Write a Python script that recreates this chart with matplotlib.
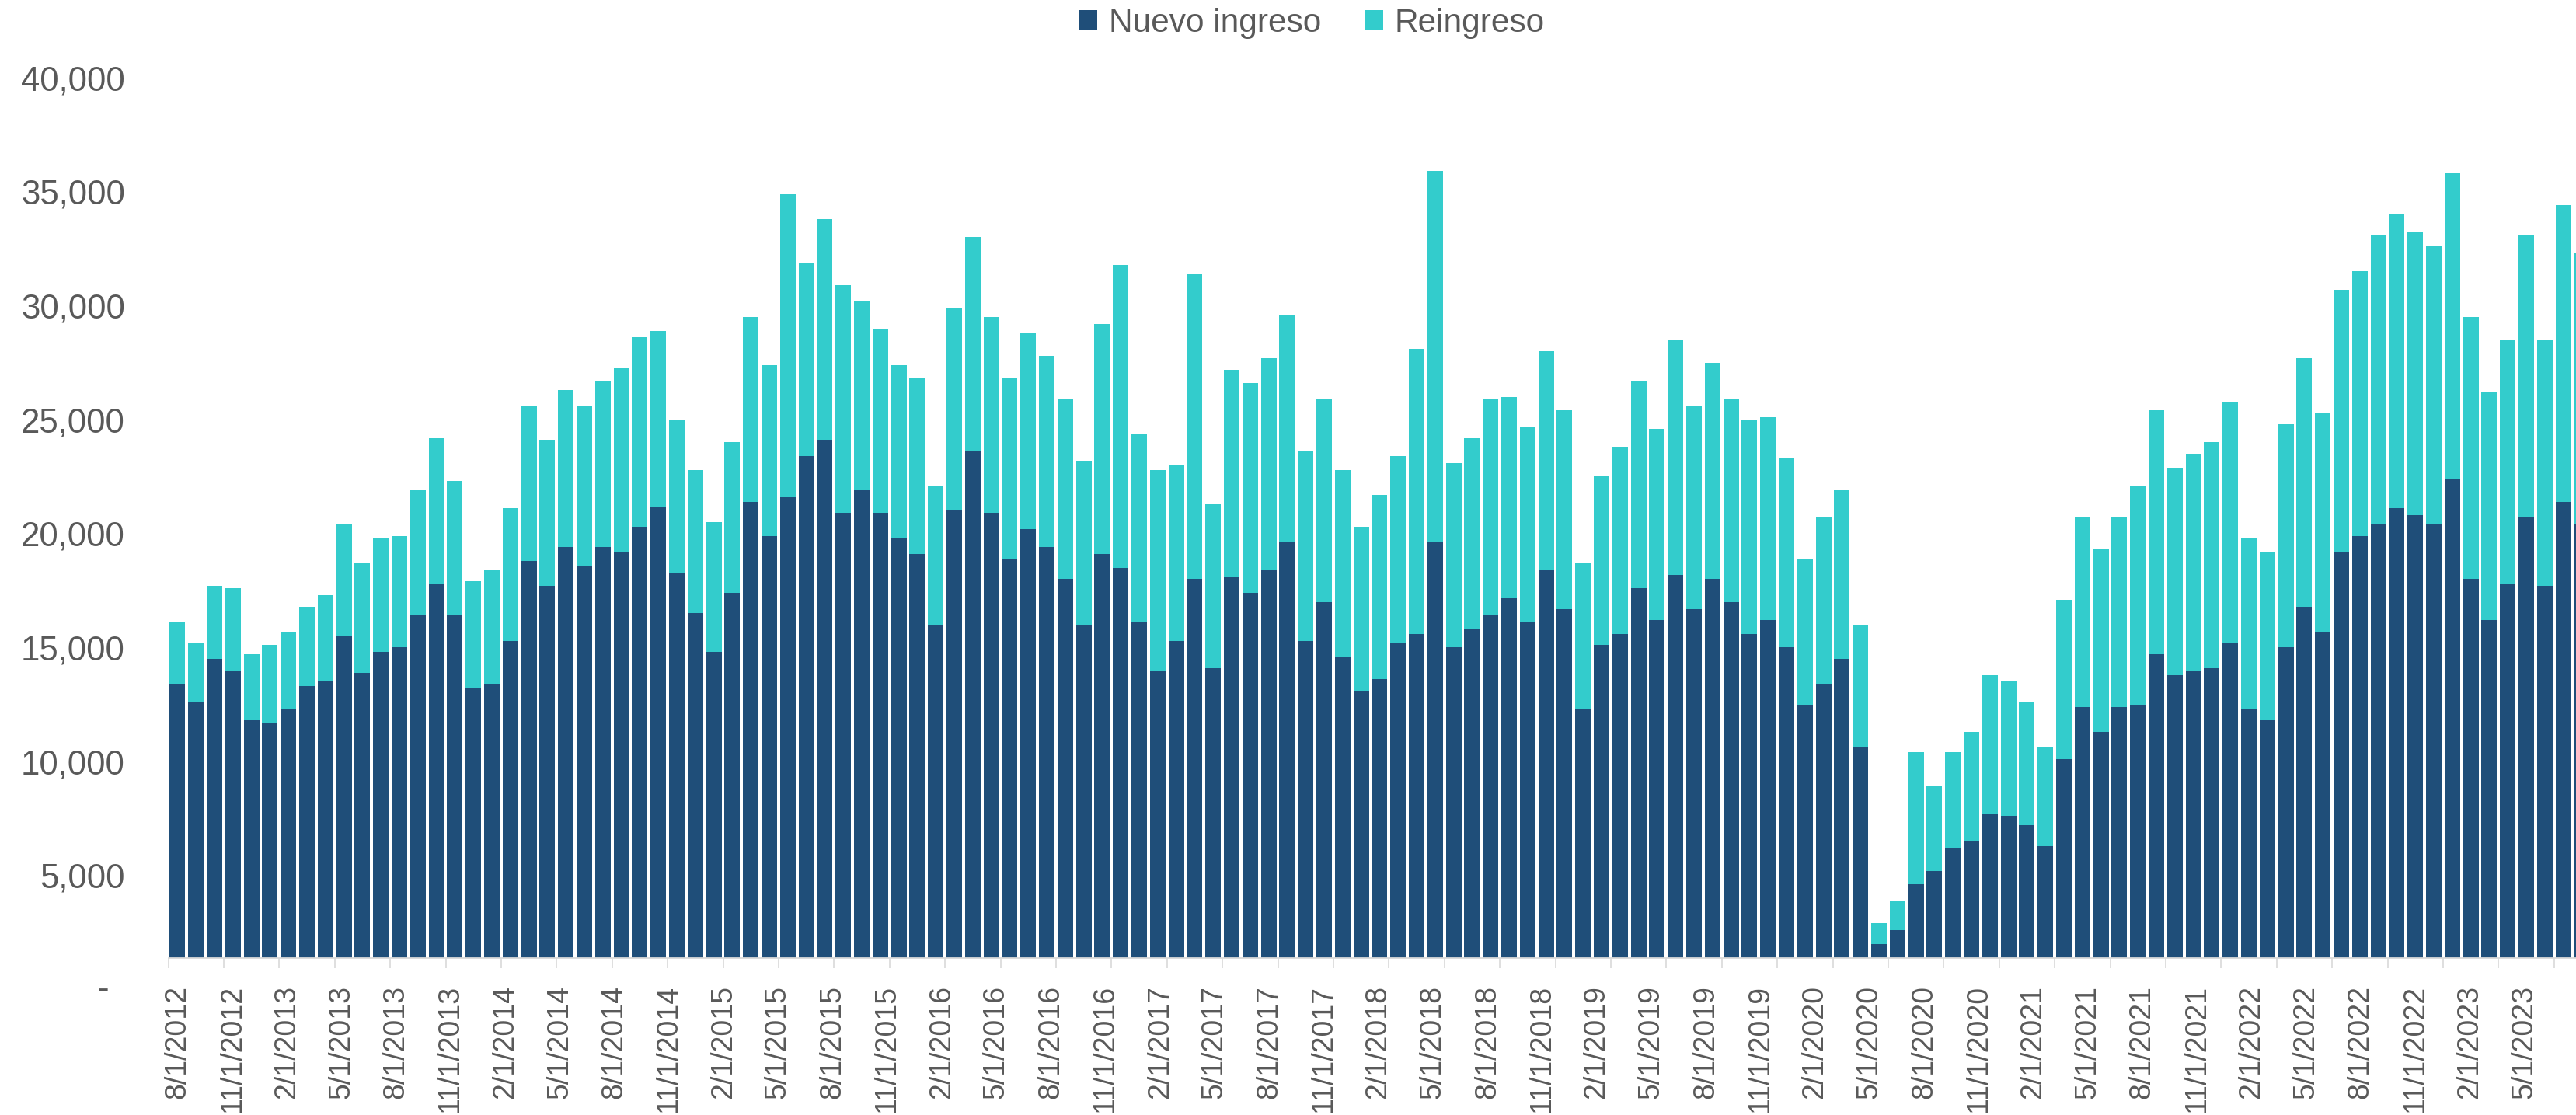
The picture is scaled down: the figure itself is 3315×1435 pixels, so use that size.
import numpy as np
import matplotlib.pyplot as plt
import matplotlib.transforms as mtransforms

plt.rcParams['font.family'] = ['Liberation Sans', 'DejaVu Sans']

# monthly values, 8/2012 .. 6/2023
nuevo = [13400, 12600, 14500, 14000, 11800, 11700, 12300, 13300, 13500, 15500,
         13900, 14800, 15000, 16400, 17800, 16400, 13200, 13400, 15300, 18800,
         17700, 19400, 18600, 19400, 19200, 20300, 21200, 18300, 16500, 14800,
         17400, 21400, 19900, 21600, 23400, 24100, 20900, 21900, 20900, 19800,
         19100, 16000, 21000, 23600, 20900, 18900, 20200, 19400, 18000, 16000,
         19100, 18500, 16100, 14000, 15300, 18000, 14100, 18100, 17400, 18400,
         19600, 15300, 17000, 14600, 13100, 13600, 15200, 15600, 19600, 15000,
         15800, 16400, 17200, 16100, 18400, 16700, 12300, 15100, 15600, 17600,
         16200, 18200, 16700, 18000, 17000, 15600, 16200, 15000, 12500, 13400,
         14500, 10600, 2000, 2600, 4600, 5200, 6200, 6500, 7700, 7600,
         7200, 6300, 10100, 12400, 11300, 12400, 12500, 14700, 13800, 14000,
         14100, 15200, 12300, 11800, 15000, 16800, 15700, 19200, 19900, 20400,
         21100, 20800, 20400, 22400, 18000, 16200, 17800, 20700, 17700, 21400,
         20400]

reingreso = [2700, 2600, 3200, 3600, 2900, 3400, 3400, 3500, 3800, 4900,
             4800, 5000, 4900, 5500, 6400, 5900, 4700, 5000, 5800, 6800,
             6400, 6900, 7000, 7300, 8100, 8300, 7700, 6700, 6300, 5700,
             6600, 8100, 7500, 13300, 8500, 9700, 10000, 8300, 8100, 7600,
             7700, 6100, 8900, 9400, 8600, 7900, 8600, 8400, 7900, 7200,
             10100, 13300, 8300, 8800, 7700, 13400, 7200, 9100, 9200, 9300,
             10000, 8300, 8900, 8200, 7200, 8100, 8200, 12500, 16300, 8100,
             8400, 9500, 8800, 8600, 9600, 8700, 6400, 7400, 8200, 9100,
             8400, 10300, 8900, 9500, 8900, 9400, 8900, 8300, 6400, 7300,
             7400, 5400, 900, 1300, 5800, 3700, 4200, 4800, 6100, 5900,
             5400, 4300, 7000, 8300, 8000, 8300, 9600, 10700, 9100, 9500,
             9900, 10600, 7500, 7400, 9800, 10900, 9600, 11500, 11600, 12700,
             12900, 12400, 12200, 13400, 11500, 10000, 10700, 12400, 10800, 13000,
             11900]

tick_labels = ['8/1/2012', '11/1/2012', '2/1/2013', '5/1/2013', '8/1/2013', '11/1/2013',
               '2/1/2014', '5/1/2014', '8/1/2014', '11/1/2014', '2/1/2015', '5/1/2015',
               '8/1/2015', '11/1/2015', '2/1/2016', '5/1/2016', '8/1/2016', '11/1/2016',
               '2/1/2017', '5/1/2017', '8/1/2017', '11/1/2017', '2/1/2018', '5/1/2018',
               '8/1/2018', '11/1/2018', '2/1/2019', '5/1/2019', '8/1/2019', '11/1/2019',
               '2/1/2020', '5/1/2020', '8/1/2020', '11/1/2020', '2/1/2021', '5/1/2021',
               '8/1/2021', '11/1/2021', '2/1/2022', '5/1/2022', '8/1/2022', '11/1/2022',
               '2/1/2023', '5/1/2023']

navy = '#1f4e79'
cyan = '#33cccc'
grey = '#595959'
axis_grey = '#d9d9d9'

x = np.arange(len(nuevo))

fig = plt.figure(figsize=(33.16, 14.35), dpi=100)
ax = fig.add_axes([0.0653, 0.1406, 0.9347, 0.7897])

ax.bar(x, nuevo, width=0.84, color=navy, label='Nuevo ingreso')
ax.bar(x, reingreso, width=0.84, bottom=nuevo, color=cyan, label='Reingreso')

ax.set_xlim(-0.5, 129.73)
ax.set_ylim(1370, 40000)

# y axis
yt = np.arange(5000, 40001, 5000)
ax.set_yticks(yt)
ax.set_yticklabels([f'{v:,}' for v in yt])
ax.tick_params(axis='y', length=0, pad=40, labelsize=31.5, labelcolor=grey)
# zero label sits below the visible range, as in the original
trans = mtransforms.blended_transform_factory(fig.transFigure, ax.transData)
ax.text(133 / 3316, 0, '-', transform=trans, ha='center', va='center',
        fontsize=31.5, color=grey, clip_on=False)

# x axis: marks between every 3rd month, labels slightly drifting like in Excel
label_pos = np.arange(len(tick_labels)) * 2.951
ax.set_xticks(label_pos)
ax.set_xticklabels(tick_labels, rotation=90)
ax.tick_params(axis='x', which='major', length=0, pad=25, labelsize=27, labelcolor=grey)
ax.set_xticks(np.arange(-0.5, 130, 3), minor=True)
ax.tick_params(axis='x', which='minor', length=9.5, width=1.2, color=axis_grey)

for s in ['top', 'right', 'left']:
    ax.spines[s].set_visible(False)
ax.spines['bottom'].set_color(axis_grey)
ax.spines['bottom'].set_linewidth(1.3)

fig.legend(loc='center', bbox_to_anchor=(1688 / 3316, 1 - 30 / 1435), ncol=2,
           frameon=False, fontsize=30.5, handlelength=0.57, handleheight=0.57,
           handletextpad=0.34, columnspacing=1.33, labelcolor=grey, borderpad=0)

fig.savefig('out.png', dpi=100)
